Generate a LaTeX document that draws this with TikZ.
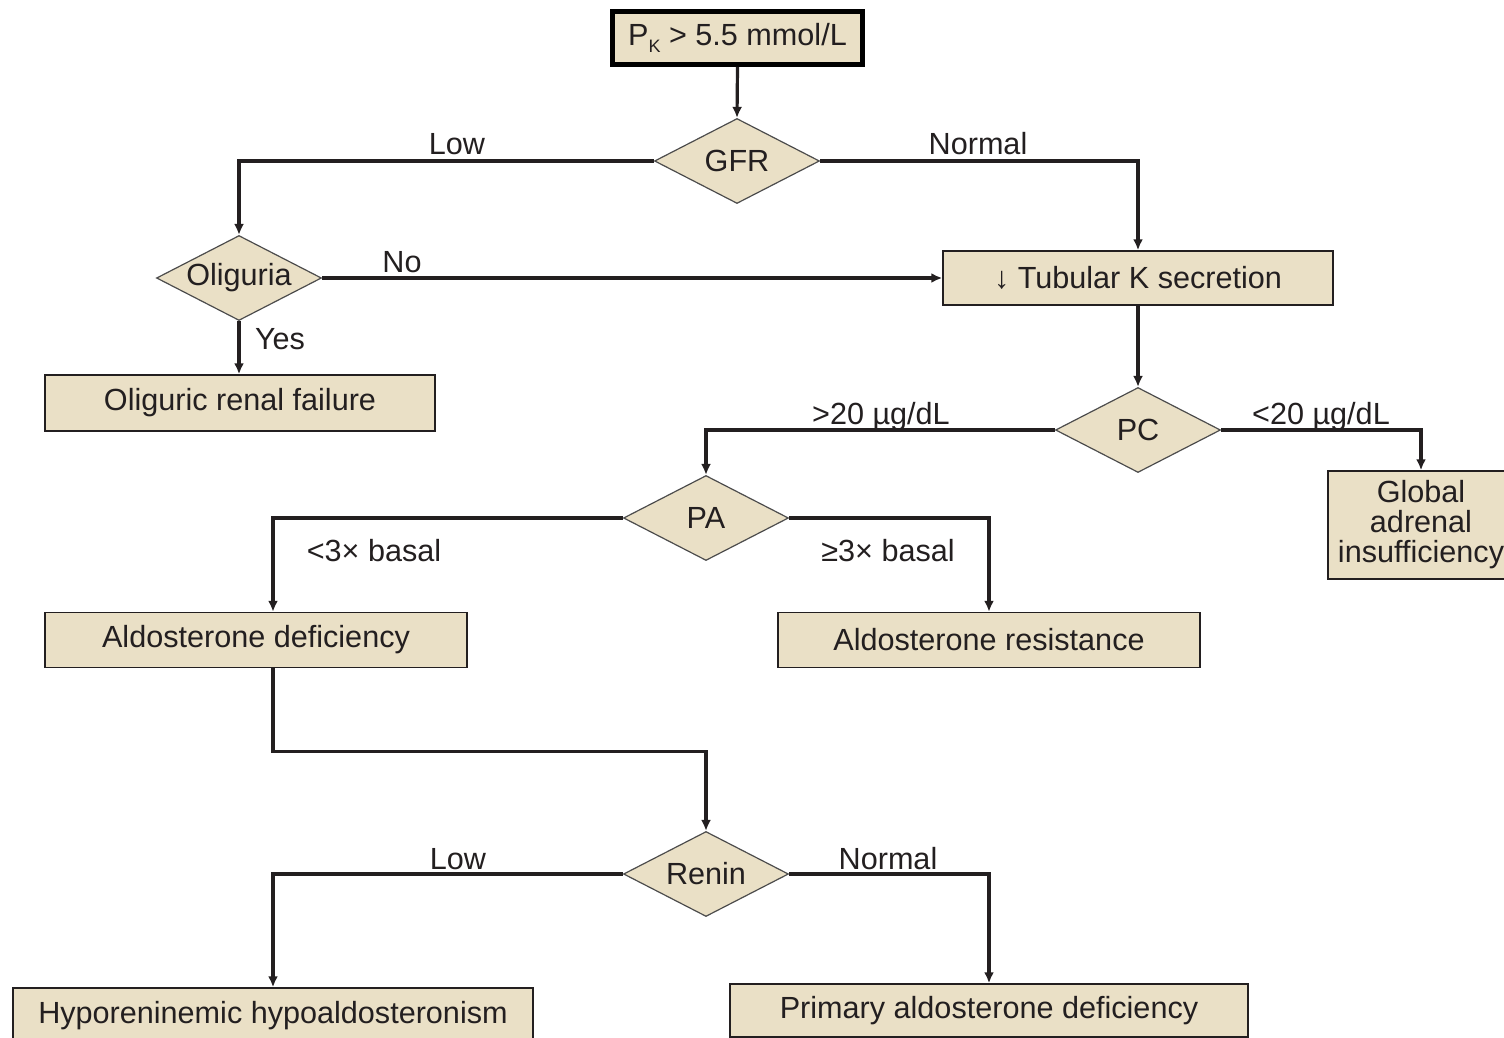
\documentclass[tikz,border=0pt]{standalone}
\usepackage{fontspec}
\setmainfont{Liberation Sans}
\usetikzlibrary{shapes.geometric,arrows.meta}
\definecolor{beige}{RGB}{234,224,198}
\definecolor{ink}{RGB}{35,31,32}
\begin{document}
\begin{tikzpicture}[x=0.5pt,y=-0.5pt,
  font=\fontsize{15.3}{18}\selectfont, text=ink,
  box/.style={draw=ink, line width=0.75pt, fill=beige, inner sep=0pt, align=center},
  dec/.style={diamond, aspect=1.94, draw=black!70, line width=0.6pt, fill=beige, inner sep=0pt,
    minimum width=82.5pt, minimum height=42.5pt},
  conn/.style={draw=ink, line width=1.6pt, -{Latex[length=5.5pt,width=5pt]}},
  lbl/.style={anchor=base, inner sep=0pt}]
\useasboundingbox (0,0) rectangle (1504,1038);

% boxes
\node[box, draw=black, line width=2.5pt, minimum width=125pt, minimum height=26.5pt] (top) at (737.5,38)
  {P\raisebox{-0.4ex}{\fontsize{9}{9}\selectfont K} > 5.5 mmol/L};
\node[box, minimum width=195pt, minimum height=28pt] (olf) at (240,403) {Oliguric renal failure};
\node[box, minimum width=195pt, minimum height=27pt] (tub) at (1138,278) {↓ Tubular K secretion};
\node[box, minimum width=93pt, minimum height=54pt, font=\fontsize{15.3}{15}\selectfont] (glob) at (1421,525)
  {Global\\adrenal\\insufficiency};
\node[box, minimum width=211pt, minimum height=27.5pt] (adef) at (256,640) {Aldosterone deficiency};
\node[box, minimum width=211pt, minimum height=27.5pt] (ares) at (989,640) {Aldosterone resistance};
\node[box, minimum width=260pt, minimum height=28pt] (hyp) at (273,1016) {Hyporeninemic hypoaldosteronism};
\node[box, minimum width=259pt, minimum height=26.5pt] (prim) at (989,1010.5) {Primary aldosterone deficiency};

% decisions
\node[dec] (gfr) at (737,161) {GFR};
\node[dec] (oli) at (239,278) {Oliguria};
\node[dec] (pc) at (1138,430) {PC};
\node[dec] (pa) at (706,518) {PA};
\node[dec] (renin) at (706,874) {Renin};

% connectors
\draw[conn] (top.south) -- (gfr.north);
\draw[conn] (gfr.west) -| (oli.north);
\draw[conn] (gfr.east) -| (tub.north);
\draw[conn] (oli.east) -- (tub.west);
\draw[conn] (oli.south) -- (oli.south |- olf.north);
\draw[conn] (tub.south) -- (pc.north);
\draw[conn] (pc.west) -| (pa.north);
\draw[conn] (pc.east) -| (glob.north);
\draw[conn] (pa.west) -| (hyp.north |- adef.north);
\draw[conn] (pa.east) -| (ares.north);
\draw[conn] (hyp.north |- adef.south) -- ++(0,83) -| (renin.north);
\draw[conn] (renin.west) -| (hyp.north);
\draw[conn] (renin.east) -| (prim.north);

% labels
\node[lbl] (l1) at (457,155) {Low};
\node[lbl] (l2) at (978,155) {Normal};
\node[lbl] (l3) at (402,272) {No};
\node[lbl] (l4) at (280,349) {Yes};
\node[lbl] (l5) at (881,424) {>20 µg/dL};
\node[lbl] (l6) at (1321,424) {<20 µg/dL};
\node[lbl] (l7) at (374,561) {<3× basal};
\node[lbl] (l8) at (888,561) {≥3× basal};
\node[lbl] (l9) at (458,869) {Low};
\node[lbl] (l10) at (888,869) {Normal};
\end{tikzpicture}
\end{document}
